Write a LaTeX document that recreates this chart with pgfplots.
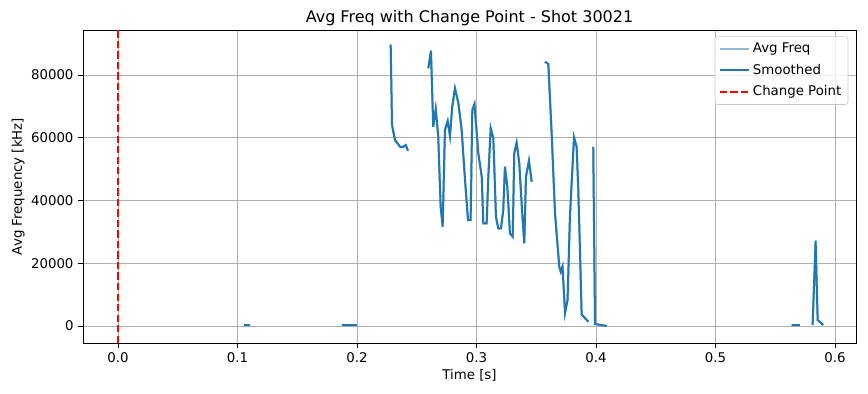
\documentclass[border=0pt]{standalone}
\usepackage{fontspec}
\setmainfont{DejaVu Sans}
\usepackage{pgfplots}
\usepackage{pgfplotstable}
\pgfplotsset{compat=1.18}
\definecolor{tabblue}{HTML}{1F77B4}
\definecolor{gridgray}{HTML}{B0B0B0}
\pgfplotstableread{
x y
0.1054 300
0.1105 300
nan nan
0.1874 300
0.2000 300
nan nan
0.2282 89650
0.2293 64060
0.2318 59280
0.2360 57140
0.2385 57050
0.2408 57680
0.2427 55870
nan nan
0.2597 82130
0.2619 87740
0.2638 63520
0.2659 69160
0.2680 60330
0.2700 38020
0.2717 31650
0.2736 62470
0.2759 65330
0.2778 60550
0.2797 69890
0.2820 75750
0.2848 71070
0.2876 62470
0.2904 46530
0.2929 33780
0.2951 33780
0.2965 68840
0.2983 70750
0.3015 55140
0.3044 47580
0.3057 32730
0.3085 32730
0.3099 47580
0.3119 63010
0.3141 59820
0.3163 34830
0.3182 31140
0.3205 31140
0.3224 36970
0.3238 50770
0.3258 44390
0.3280 29540
0.3303 28460
0.3316 55040
0.3336 58420
0.3358 51850
0.3381 36970
0.3400 26360
0.3414 47580
0.3439 52680
0.3462 45990
nan nan
0.3573 84230
0.3601 83500
0.3629 61410
0.3657 35920
0.3693 18900
0.3705 17310
0.3720 18960
0.3741 4140
0.3762 8290
0.3782 34830
0.3816 60140
0.3838 57140
0.3852 43340
0.3866 24220
0.3880 3660
0.3936 1370
nan nan
0.3977 57050
0.3992 640
0.4090 0
nan nan
0.5637 300
0.5707 300
nan nan
0.5813 320
0.5838 27190
0.5855 1910
0.5902 320
}\freqdata
\begin{document}
\begin{tikzpicture}[x=0.75pt,y=0.75pt]
\begin{axis}[
  at={(0,0)}, anchor=south west,
  scale only axis,
  width=579.75pt, height=234.75pt,
  xmin=-0.0293, xmax=0.6176,
  ymin=-5418, ymax=94343,
  xtick={0,0.1,0.2,0.3,0.4,0.5,0.6},
  ytick={0,20000,40000,60000,80000},
  scaled y ticks=false,
  scaled x ticks=false,
  /pgf/number format/assume math mode=true,
  xticklabel style={/pgf/number format/.cd,fixed,fixed zerofill,precision=1},
  yticklabel style={/pgf/number format/.cd,fixed,1000 sep={}},
  tick align=outside,
  major tick length=3.6pt,
  tick style={black, line width=0.6pt},
  xtick pos=bottom, ytick pos=left,
  grid=major,
  major grid style={gridgray, line width=0.6pt},
  axis line style={black, line width=0.6pt},
  tick label style={font=\fontsize{10}{12}\selectfont},
  label style={font=\fontsize{10}{12}\selectfont},
  xlabel={Time [s]},
  ylabel={Avg Frequency [kHz]},
  xlabel style={yshift=2pt},
  ylabel style={yshift=-2pt},
  title={Avg Freq with Change Point - Shot 30021},
  title style={font=\fontsize{12}{14}\selectfont, yshift=-6.5pt},
  unbounded coords=jump,
  legend cell align=left,
  legend style={font=\fontsize{10}{12}\selectfont, draw=gridgray!70, rounded corners=2pt, fill=white, fill opacity=0.8, text opacity=1, inner sep=3pt, row sep=3pt, at={(0.99,0.98)}, anchor=north east},
  legend image code/.code={\draw[#1] (0pt,0pt) -- (22pt,0pt);},
]
\addplot[tabblue!50, line width=1.5pt] table {\freqdata};
\addlegendentry{Avg Freq}
\addplot[tabblue, line width=1.5pt] table {\freqdata};
\addlegendentry{Smoothed}
\addplot[red, dashed, line width=1.5pt, dash pattern=on 5.5pt off 2.4pt] coordinates {(0,-5418) (0,94343)};
\addlegendentry{Change Point}
\end{axis}
\path (-62.25pt,-37.5pt) rectangle (588.75pt,257.25pt);
\end{tikzpicture}
\end{document}
